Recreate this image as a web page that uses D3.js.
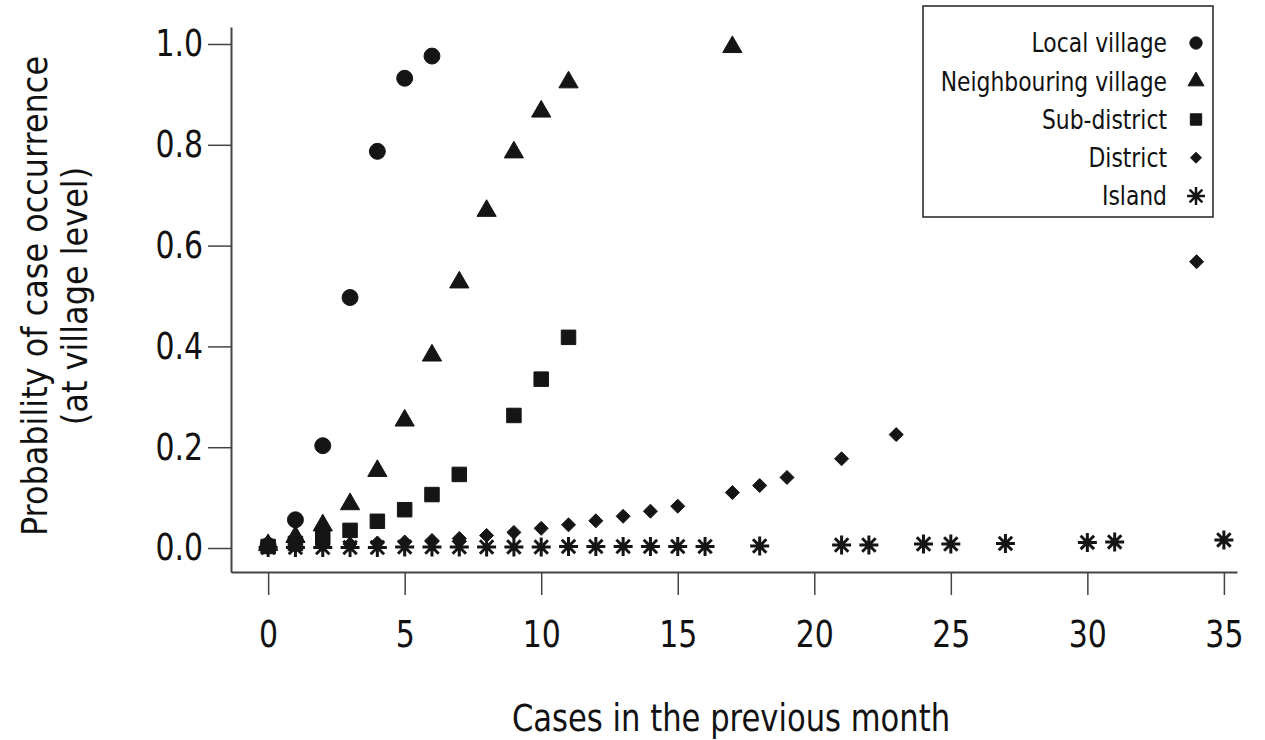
<!DOCTYPE html>
<html>
<head>
<meta charset="utf-8">
<script src="https://cdn.jsdelivr.net/npm/d3@7/dist/d3.min.js"></script>
<style>
  body { margin: 0; background: #fff; }
  text { font-family: "Liberation Sans Narrow", "DejaVu Sans Condensed", "Roboto", sans-serif; fill: #111; }
  .axis path, .axis line { stroke: #444; }
</style>
</head>
<body>
<div id="chart"></div>
<script>
/* data */
var localX = [0, 1, 2, 3, 4, 5, 6];
var localY = [0.005, 0.056, 0.203, 0.497, 0.787, 0.932, 0.976];

var neighX = [0, 1, 2, 3, 4, 5, 6, 7, 8, 9, 10, 11, 17];
var neighY = [0.006, 0.022, 0.045, 0.087, 0.153, 0.253, 0.382, 0.527, 0.669, 0.785, 0.866, 0.924, 0.994];

var subX = [0, 1, 2, 3, 4, 5, 6, 7, 9, 10, 11];
var subY = [0.003, 0.009, 0.02, 0.035, 0.053, 0.076, 0.106, 0.146, 0.263, 0.335, 0.418];

var distX = [0, 1, 2, 3, 4, 5, 6, 7, 8, 9, 10, 11, 12, 13, 14, 15, 17, 18, 19, 21, 23, 34];
var distY = [0.002, 0.004, 0.006, 0.008, 0.01, 0.012, 0.015, 0.019, 0.025, 0.031, 0.039, 0.046, 0.054, 0.063, 0.073, 0.083, 0.11, 0.124, 0.14, 0.177, 0.225, 0.568];

var islandX = [0, 1, 2, 3, 4, 5, 6, 7, 8, 9, 10, 11, 12, 13, 14, 15, 16, 18, 21, 22, 24, 25, 27, 30, 31, 35];
var islandY = [0.001, 0.001, 0.001, 0.001, 0.001, 0.002, 0.002, 0.002, 0.002, 0.002, 0.002, 0.003, 0.003, 0.003, 0.003, 0.003, 0.003, 0.004, 0.006, 0.006, 0.008, 0.008, 0.009, 0.011, 0.012, 0.016];

var seriesNames = ["Local village", "Neighbouring village", "Sub-district", "District", "Island"];
var xTicks = [0, 5, 10, 15, 20, 25, 30, 35];
var yTicks = [0, 0.2, 0.4, 0.6, 0.8, 1.0];

var margin = {top: 27, right: 28, bottom: 168, left: 231},
    width = 1265 - margin.left - margin.right,
    height = 740 - margin.top - margin.bottom;

// the original font is a condensed face, squeeze ours a bit
var squeeze = 0.9;

var svg = d3.select("#chart")
    .append("svg")
    .attr("width", 1265)
    .attr("height", 740);

var g = svg.append("g")
    .attr("transform", "translate(" + margin.left + "," + margin.top + ")");

var x = d3.scaleLinear().domain([-1.36, 35.48]).range([0, width]);
var y = d3.scaleLinear().domain([-0.0476, 1.0337]).range([height, 0]);

var xAxis = d3.axisBottom(x).tickValues(xTicks).tickSize(23).tickSizeOuter(0).tickPadding(26);
var yAxis = d3.axisLeft(y).tickValues(yTicks).tickSize(23).tickSizeOuter(0).tickPadding(5)
    .tickFormat(d3.format(".1f"));

g.append("g")
    .attr("class", "axis")
    .attr("transform", "translate(0," + height + ")")
    .call(xAxis)
    .call(function(s) {
        s.select(".domain").attr("stroke-width", 2);
        s.selectAll(".tick line").attr("stroke-width", 1.5);
        s.selectAll("text").style("font-size", "37px").attr("fill", "#111")
            .attr("transform", "scale(" + squeeze + ",1)");
    });

g.append("g")
    .attr("class", "axis")
    .call(yAxis)
    .call(function(s) {
        s.select(".domain").attr("stroke-width", 2);
        s.selectAll(".tick line").attr("stroke-width", 1.5);
        s.selectAll("text").style("font-size", "37px").attr("fill", "#111")
            .attr("x", -28 / squeeze)
            .attr("transform", "scale(" + squeeze + ",1)");
    });

/* axis titles */
svg.append("text")
    .attr("transform", "translate(731,731) scale(0.92,1)")
    .attr("text-anchor", "middle")
    .style("font-size", "37px")
    .text("Cases in the previous month");

var yTitle = svg.append("text")
    .attr("transform", "translate(0,296) rotate(-90)")
    .attr("text-anchor", "middle")
    .style("font-size", "35.5px");
yTitle.append("tspan").attr("x", 0).attr("y", 47).text("Probability of case occurrence");
yTitle.append("tspan").attr("x", 0).attr("y", 87).text("(at village level)");

/* marker shapes */
function starPath(r) {
    var p = "";
    for (var i = 0; i < 4; i++) {
        var a = i * Math.PI / 4;
        var dx = r * Math.cos(a), dy = r * Math.sin(a);
        p += "M" + (-dx) + "," + (-dy) + "L" + dx + "," + dy;
    }
    return p;
}
function diamondPath(h) {
    return "M0," + (-h) + "L" + h + ",0L0," + h + "L" + (-h) + ",0Z";
}

var markers = [
    {xs: localX, ys: localY, path: d3.symbol(d3.symbolCircle, 200)(), star: false},
    {xs: neighX, ys: neighY, path: d3.symbol(d3.symbolTriangle, 160)(), star: false},
    {xs: subX, ys: subY, path: d3.symbol(d3.symbolSquare, 210)(), star: false},
    {xs: distX, ys: distY, path: diamondPath(7), star: false},
    {xs: islandX, ys: islandY, path: starPath(9.5), star: true}
];
var legendPaths = [
    d3.symbol(d3.symbolCircle, 120)(),
    d3.symbol(d3.symbolTriangle, 110)(),
    d3.symbol(d3.symbolSquare, 130)(),
    diamondPath(5.5),
    starPath(9)
];

markers.forEach(function(m) {
    var pts = m.xs.map(function(v, i) { return [v, m.ys[i]]; });
    g.selectAll(null)
        .data(pts)
        .enter()
        .append("path")
        .attr("d", m.path)
        .attr("transform", function(d) {
            return "translate(" + x(d[0]) + "," + y(d[1]) + ")";
        })
        .attr("fill", m.star ? "none" : "#151515")
        .attr("stroke", m.star ? "#151515" : "#151515")
        .attr("stroke-width", m.star ? 3 : 1)
        .attr("stroke-linejoin", "round");
});

/* legend */
var legend = svg.append("g");
legend.append("rect")
    .attr("x", 923).attr("y", 6)
    .attr("width", 290).attr("height", 211)
    .attr("fill", "#fff")
    .attr("stroke", "#222")
    .attr("stroke-width", 1.5);

var rowY = d3.scaleLinear().domain([0, 4]).range([43, 196]);
seriesNames.forEach(function(name, i) {
    legend.append("text")
        .attr("transform", "translate(1167," + rowY(i) + ") scale(" + squeeze + ",1)")
        .attr("dy", "0.35em")
        .attr("text-anchor", "end")
        .style("font-size", "27px")
        .text(name);
    legend.append("path")
        .attr("d", legendPaths[i])
        .attr("transform", "translate(1196," + rowY(i) + ")")
        .attr("fill", i === 4 ? "none" : "#151515")
        .attr("stroke", "#151515")
        .attr("stroke-width", i === 4 ? 2.5 : 1)
        .attr("stroke-linejoin", "round");
});
</script>
</body>
</html>
